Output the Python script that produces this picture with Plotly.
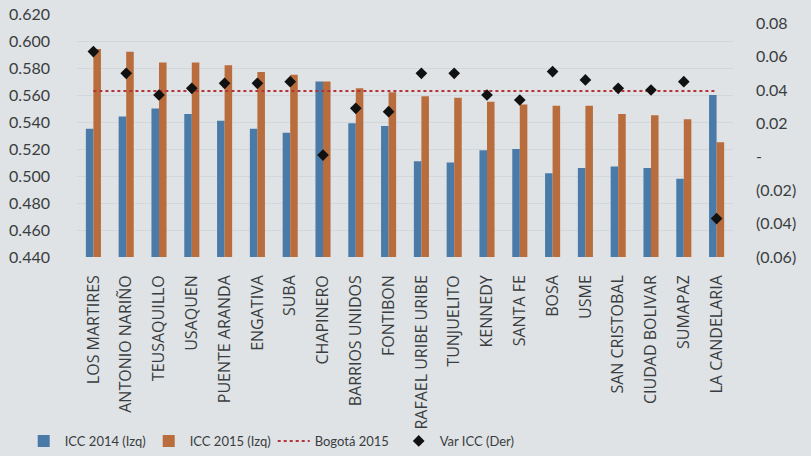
import plotly.graph_objects as go

categories = ["LOS MARTIRES", "ANTONIO NARIÑO", "TEUSAQUILLO", "USAQUEN", "PUENTE ARANDA",
              "ENGATIVA", "SUBA", "CHAPINERO", "BARRIOS UNIDOS", "FONTIBON",
              "RAFAEL URIBE URIBE", "TUNJUELITO", "KENNEDY", "SANTA FE", "BOSA",
              "USME", "SAN CRISTOBAL", "CIUDAD BOLIVAR", "SUMAPAZ", "LA CANDELARIA"]
icc_2014 = [0.535, 0.544, 0.550, 0.546, 0.541, 0.535, 0.532, 0.570, 0.539, 0.537,
            0.511, 0.510, 0.519, 0.520, 0.502, 0.506, 0.507, 0.506, 0.498, 0.560]
icc_2015 = [0.594, 0.592, 0.584, 0.584, 0.582, 0.577, 0.575, 0.570, 0.565, 0.562,
            0.559, 0.558, 0.555, 0.553, 0.552, 0.552, 0.546, 0.545, 0.542, 0.525]
bogota_2015 = 0.563
var_icc = [0.063, 0.050, 0.037, 0.041, 0.044, 0.044, 0.045, 0.001, 0.029, 0.027,
           0.050, 0.050, 0.037, 0.034, 0.051, 0.046, 0.041, 0.040, 0.045, -0.037]

left_ticks = [0.44 + 0.02 * i for i in range(10)]
right_ticks = [-0.06, -0.04, -0.02, 0.0, 0.02, 0.04, 0.06, 0.08]
right_text = ["(0.06)", "(0.04)", "(0.02)", "-", "0.02", "0.04", "0.06", "0.08"]

BLUE = "#4a7ba8"
ORANGE = "#b96c3c"
RED = "#b3333a"
TXT = "#3a3d40"
BG = "#dfe3e6"
FONT = "Lato"

fig = go.Figure()
fig.add_trace(go.Bar(x=categories, y=icc_2014, name="ICC 2014 (Izq)",
                     marker=dict(color=BLUE, line=dict(width=0))))
fig.add_trace(go.Bar(x=categories, y=icc_2015, name="ICC 2015 (Izq)",
                     marker=dict(color=ORANGE, line=dict(width=0))))
fig.add_trace(go.Scatter(x=categories, y=[bogota_2015] * len(categories), name="Bogotá 2015",
                         mode="lines", line=dict(color=RED, dash="dot", width=2)))
fig.add_trace(go.Scatter(x=categories, y=var_icc, name="Var ICC (Der)", yaxis="y2",
                         mode="markers",
                         marker=dict(symbol="diamond", color="#111111", size=9)))

fig.update_layout(
    width=811, height=456,
    margin=dict(l=77, r=78, t=14, b=199),
    paper_bgcolor=BG, plot_bgcolor=BG,
    font=dict(family=FONT, color=TXT, size=15),
    barmode="group", bargap=0.54, bargroupgap=0,
    showlegend=True,
    legend=dict(orientation="h", x=0.028, xanchor="left", xref="container",
                y=0.0, yanchor="bottom", yref="container", bgcolor="rgba(0,0,0,0)",
                font=dict(size=13, color=TXT, family=FONT),
                entrywidth=78, entrywidthmode="pixels", itemwidth=32),
    xaxis=dict(range=[-0.5, len(categories) - 0.5], tickangle=-90, showgrid=False,
               showline=False, ticks="", automargin=False,
               tickfont=dict(size=16, color=TXT, family="Open Sans"), ticklabelstandoff=14),
    yaxis=dict(range=[0.44, 0.62], tickvals=left_ticks, tickformat=".3f", automargin=False,
               showgrid=True, gridcolor="#d2d7db", gridwidth=1, zeroline=False,
               showline=False, ticks="", ticklabelstandoff=26,
               tickfont=dict(size=16, color=TXT, family=FONT)),
    yaxis2=dict(range=[-0.06, 0.0855], overlaying="y", side="right", automargin=False,
                tickvals=right_ticks, ticktext=right_text, showgrid=False,
                zeroline=False, showline=False, ticks="", ticklabelstandoff=22,
                tickfont=dict(size=16, color=TXT, family=FONT)),
)

fig.write_html("out.html")
